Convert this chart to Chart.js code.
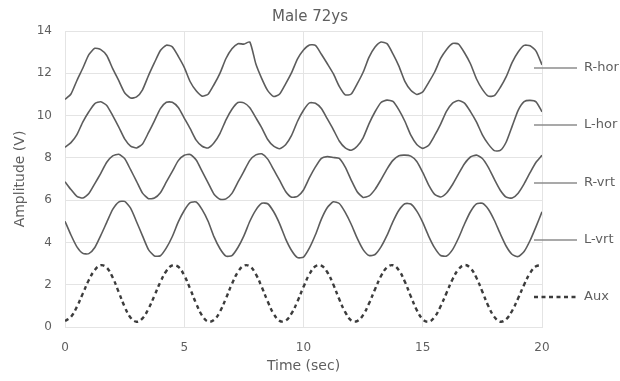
<!DOCTYPE html>
<html><head><meta charset="utf-8">
<script src="https://cdn.jsdelivr.net/npm/chart.js@4.4.1/dist/chart.umd.min.js"></script>
<style>html,body{margin:0;padding:0;background:#fff;overflow:hidden}#wrap{width:620px;height:381px}</style>
</head><body><div id="wrap"><canvas id="c" width="620" height="381"></canvas></div>
<script>
const times = [0,0.25,0.5,0.75,1,1.25,1.5,1.75,2,2.25,2.5,2.75,3,3.25,3.5,3.75,4,4.25,4.5,4.75,5,5.25,5.5,5.75,6,6.25,6.5,6.75,7,7.25,7.5,7.75,8,8.25,8.5,8.75,9,9.25,9.5,9.75,10,10.25,10.5,10.75,11,11.25,11.5,11.75,12,12.25,12.5,12.75,13,13.25,13.5,13.75,14,14.25,14.5,14.75,15,15.25,15.5,15.75,16,16.25,16.5,16.75,17,17.25,17.5,17.75,18,18.25,18.5,18.75,19,19.25,19.5,19.75,20];
const seriesNames = ['R-hor','L-hor','R-vrt','L-vrt','Aux'];
const rHor = [10.76,11.02,11.66,12.25,12.88,13.18,13.12,12.84,12.22,11.66,11.08,10.83,10.88,11.22,11.89,12.50,13.08,13.33,13.25,12.80,12.28,11.60,11.17,10.92,11.01,11.47,12.01,12.70,13.16,13.40,13.38,13.48,12.45,11.75,11.18,10.90,11.02,11.50,12.03,12.68,13.10,13.34,13.32,12.90,12.45,11.98,11.38,10.98,11.02,11.50,12.05,12.76,13.24,13.48,13.40,12.92,12.34,11.62,11.20,11.00,11.12,11.57,12.06,12.70,13.13,13.41,13.38,12.97,12.45,11.74,11.24,10.92,10.94,11.33,11.84,12.52,13.01,13.32,13.30,13.05,12.40];
const lHor = [8.50,8.72,9.10,9.70,10.18,10.57,10.65,10.48,10.00,9.47,8.90,8.56,8.47,8.66,9.19,9.75,10.33,10.63,10.63,10.38,9.88,9.38,8.84,8.55,8.47,8.71,9.16,9.80,10.30,10.62,10.60,10.37,9.90,9.42,8.87,8.55,8.43,8.62,9.06,9.73,10.25,10.60,10.58,10.33,9.84,9.34,8.80,8.47,8.36,8.55,8.95,9.62,10.18,10.62,10.73,10.67,10.27,9.73,9.07,8.63,8.45,8.60,9.06,9.60,10.21,10.59,10.71,10.59,10.19,9.70,9.09,8.65,8.34,8.35,8.75,9.50,10.25,10.66,10.72,10.65,10.18];
const rVrt = [6.87,6.50,6.18,6.10,6.31,6.78,7.27,7.79,8.09,8.17,7.97,7.44,6.89,6.33,6.07,6.10,6.35,6.86,7.36,7.87,8.12,8.16,7.90,7.36,6.82,6.28,6.04,6.06,6.32,6.85,7.36,7.88,8.14,8.19,7.94,7.44,6.93,6.41,6.14,6.18,6.48,7.06,7.57,7.98,8.06,8.02,7.97,7.56,6.95,6.40,6.13,6.20,6.51,6.97,7.47,7.88,8.10,8.13,8.08,7.83,7.31,6.71,6.27,6.15,6.34,6.74,7.24,7.72,8.04,8.13,7.97,7.55,6.99,6.47,6.14,6.10,6.33,6.77,7.30,7.79,8.12];
const lVrt = [5.00,4.35,3.79,3.48,3.47,3.76,4.33,4.95,5.56,5.91,5.94,5.62,4.98,4.31,3.66,3.36,3.37,3.74,4.28,4.97,5.51,5.88,5.91,5.55,5.00,4.26,3.70,3.35,3.38,3.76,4.31,5.00,5.53,5.85,5.83,5.45,4.88,4.17,3.62,3.28,3.31,3.74,4.36,5.10,5.65,5.92,5.84,5.42,4.86,4.20,3.66,3.38,3.43,3.79,4.33,4.98,5.52,5.83,5.82,5.48,4.95,4.29,3.74,3.38,3.36,3.66,4.21,4.87,5.45,5.82,5.85,5.57,5.05,4.41,3.82,3.43,3.33,3.57,4.09,4.75,5.45];
const aux = [0.28,0.48,0.96,1.59,2.22,2.70,2.92,2.81,2.34,1.66,0.96,0.44,0.25,0.41,0.86,1.48,2.13,2.65,2.91,2.85,2.44,1.80,1.11,0.54,0.26,0.34,0.73,1.36,2.04,2.60,2.90,2.87,2.50,1.89,1.21,0.62,0.29,0.30,0.64,1.22,1.90,2.50,2.87,2.90,2.59,2.01,1.31,0.70,0.31,0.28,0.57,1.12,1.79,2.41,2.82,2.92,2.68,2.14,1.45,0.80,0.36,0.25,0.48,0.98,1.62,2.26,2.73,2.93,2.79,2.33,1.67,0.99,0.48,0.25,0.37,0.77,1.36,2.00,2.55,2.87,2.92];
const xTicks = [0,5,10,15,20];
const yTicks = [0,2,4,6,8,10,12,14];

const FONT = '"DejaVu Sans", sans-serif';
const TXT = '#5f5f5f';
const GRID = '#e4e4e4';
const lineColor = '#5c5c5c';
const auxColor = '#3c3c3c';
const legendLineColor = '#8c8c8c';

const seriesValues = [rHor, lHor, rVrt, lVrt, aux];
const datasets = seriesValues.map((vals, i) => {
  const isAux = seriesNames[i] === 'Aux';
  return {
    label: seriesNames[i],
    data: times.map((t, j) => ({x: t, y: vals[j]})),
    borderColor: isAux ? auxColor : lineColor,
    borderWidth: isAux ? 2.4 : 1.6,
    borderDash: isAux ? [4, 3.5] : [],
    pointRadius: 0,
    tension: isAux ? 0.4 : 0.2,
    fill: false
  };
});

const legendYs = [68, 125, 183, 240, 297];
const sideLegend = {
  id: 'sideLegend',
  afterDraw(chart) {
    const ctx = chart.ctx;
    ctx.save();
    chart.data.datasets.forEach((ds, i) => {
      const y = legendYs[i];
      const dashed = ds.borderDash && ds.borderDash.length;
      ctx.beginPath();
      ctx.setLineDash(dashed ? ds.borderDash : []);
      ctx.strokeStyle = dashed ? ds.borderColor : legendLineColor;
      ctx.lineWidth = dashed ? ds.borderWidth : 1.5;
      ctx.moveTo(534, y);
      ctx.lineTo(577, y);
      ctx.stroke();
      ctx.setLineDash([]);
      ctx.fillStyle = TXT;
      ctx.font = '13px ' + FONT;
      ctx.textBaseline = 'middle';
      ctx.textAlign = 'left';
      ctx.fillText(ds.label, 584, y);
    });
    ctx.restore();
  }
};

new Chart(document.getElementById('c'), {
  type: 'line',
  data: { datasets },
  options: {
    responsive: false,
    animation: false,
    events: [],
    layout: { padding: 0 },
    plugins: {
      legend: { display: false },
      tooltip: { enabled: false },
      title: {
        display: true,
        text: 'Male 72ys',
        color: TXT,
        font: { family: FONT, size: 15, weight: 'normal', lineHeight: 1.2 },
        padding: { top: 8, bottom: 5 }
      }
    },
    scales: {
      x: {
        type: 'linear', min: 0, max: 20,
        afterBuildTicks: s => { s.ticks = xTicks.map(v => ({value: v})); },
        afterFit: s => { s.height = 54; },
        grid: { color: GRID, drawTicks: false, lineWidth: 1 },
        border: { color: GRID },
        ticks: { color: TXT, font: { family: FONT, size: 12 }, padding: 14, maxRotation: 0 },
        title: { display: true, text: 'Time (sec)', color: TXT, font: { family: FONT, size: 14 }, padding: { top: 0, bottom: 6 } }
      },
      y: {
        type: 'linear', min: 0, max: 14,
        afterBuildTicks: s => { s.ticks = yTicks.map(v => ({value: v})); },
        afterFit: s => { s.width = 65; },
        grid: { color: GRID, drawTicks: false, lineWidth: 1 },
        border: { color: GRID },
        ticks: { color: TXT, font: { family: FONT, size: 12 }, padding: 13 },
        title: { display: true, text: 'Amplitude (V)', color: TXT, font: { family: FONT, size: 14 }, padding: { top: 12, bottom: 0 } }
      },
      spacer: {
        type: 'linear', position: 'right', display: true,
        afterFit: s => { s.width = 78; },
        grid: { display: false, drawTicks: false },
        border: { display: false },
        ticks: { display: false }
      }
    }
  },
  plugins: [sideLegend]
});
</script>
</body></html>
